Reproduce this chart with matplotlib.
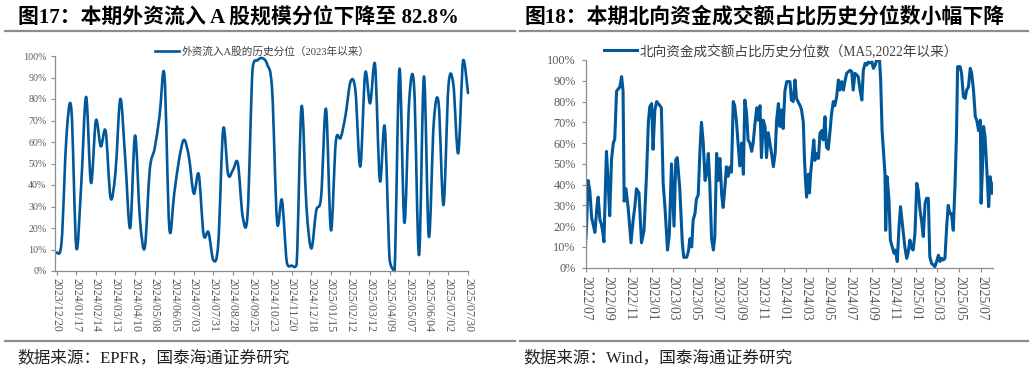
import numpy as np
import pandas as pd
import matplotlib
matplotlib.use('Agg')
import matplotlib.pyplot as plt
from matplotlib.path import Path
from matplotlib.patches import PathPatch
from matplotlib.lines import Line2D

# 图17 外资流入A股历史分位（周度，2023/12/20 起）
fi_start = '2023-12-20'
fi_pct = [8.5, 13.7, 63, 75, 11, 40, 81, 41, 70, 58, 65, 34, 46, 80, 52, 20, 63, 24, 11, 47,
          57, 72, 91, 20, 36, 52, 61, 53, 36, 45, 17, 18, 5, 13, 66, 45, 47, 50, 25, 27,
          94, 98, 99, 96, 84, 23, 33, 4, 2.5, 3, 76.5, 30, 10.5, 28, 34.6, 75.4, 19, 60, 62, 72.6,
          88, 84, 48.6, 92, 78, 96.4, 42, 67, 5, 0, 94, 22.5, 79.6, 85.5, 7.4, 90.5, 16, 68.8, 78, 30.7,
          85.8, 87, 54.8, 98, 82.8]
fi_label = '外资流入A股的历史分位（2023年以来）'

# 图18 北向资金成交额占比历史分位数（MA5），距 2022/07/01 的天数
nb_start = '2022-07-01'
nb_day = [0, 3, 7, 12, 17, 21, 26, 32, 35, 40, 44, 48, 51, 58, 63, 67, 72, 77, 81, 86,
          95, 100, 104, 107, 112, 118, 126, 132, 137, 141, 148, 155, 162, 169, 174, 178, 183, 187, 192, 197,
          206, 210, 215, 220, 227, 232, 238, 245, 250, 254, 261, 268, 272, 280, 285, 289, 294, 298, 303, 307,
          312, 317, 321, 326, 331, 335, 340, 344, 349, 354, 358, 363, 367, 372, 377, 381, 386, 390, 395, 400,
          404, 409, 413, 418, 423, 427, 432, 437, 441, 446, 450, 455, 460, 464, 469, 474, 478, 483, 487, 492,
          497, 501, 506, 515, 520, 525, 529, 534, 538, 543, 547, 552, 557, 566, 570, 575, 580, 584, 594, 598,
          603, 606, 609, 612, 617, 620, 623, 628, 632, 635, 640, 645, 649, 654, 658, 663, 667, 672, 677, 681,
          686, 690, 695, 700, 704, 709, 714, 718, 723, 732, 737, 741, 746, 751, 755, 760, 765, 769, 774, 779,
          783, 788, 793, 797, 802, 806, 814, 817, 821, 829, 831, 835, 840, 844, 849, 854, 858, 863, 868, 872,
          877, 880, 884, 889, 893, 898, 903, 907, 912, 917, 921, 926, 930, 935, 940, 944, 949, 953, 958, 963,
          967, 972, 977, 981, 986, 990, 995, 1000, 1004, 1009, 1013, 1018, 1023, 1027, 1030, 1037, 1041, 1046, 1051, 1055,
          1060, 1065, 1069, 1074, 1079, 1083, 1088, 1093, 1095, 1099, 1102, 1106, 1111, 1116, 1120, 1125, 1128]
nb_pct = [11, 20, 42, 37, 24, 21, 17, 30, 34, 23, 21, 17, 12.5, 56, 40, 25, 52, 60, 62, 85,
          87, 92, 85, 32, 38, 29, 12, 23, 30, 38, 36, 12, 18, 45, 70, 77.5, 79, 57, 76, 80,
          78, 77, 40.5, 29, 8.5, 16, 50, 20, 52, 53, 38, 12, 5, 5, 8, 14, 10, 23, 26, 33,
          35, 57, 70, 60, 42, 45, 55, 40.5, 14, 8.5, 15, 55, 42, 52.6, 35, 29, 39, 48.6, 44, 48.6,
          46, 80, 78, 70, 58, 49, 60, 45, 80.7, 74, 61.5, 60, 56, 60, 69, 77, 71, 78, 53, 71,
          68, 53, 65, 55, 48.6, 55, 71, 79, 68, 76, 67, 85, 89.6, 89.6, 80.7, 80, 90.4, 81.5, 78, 76,
          70, 53, 42, 34, 45, 36, 45, 54, 61.5, 51.7, 55, 52.6, 64.7, 66, 61.5, 72.7, 58, 57, 66, 74,
          80, 78, 82, 90.4, 85.5, 89.6, 85.5, 89.6, 93.6, 95, 94.5, 85.5, 93.6, 92.8, 92, 85.5, 80.7, 95, 98.4, 97.6,
          99, 98.6, 99, 96, 97.6, 100, 100, 90.4, 66, 45, 18, 43.8, 32.6, 13.3, 10, 7, 8.5, 3, 20, 29.4,
          21.4, 16.5, 10, 4.5, 7, 13.3, 9.3, 8.5, 16.5, 40.6, 37.4, 27.8, 23, 15, 31, 33.4, 33.4, 5.3, 2, 1.3,
          0.5, 3, 6, 3, 4.5, 3.7, 4.5, 20.5, 30, 26, 26, 18, 40.6, 64.7, 96.8, 96.8, 93.6, 82.3, 81.5, 85.5,
          87, 96, 93.6, 85.5, 72.7, 71, 66, 71, 31, 48.6, 68, 63, 47, 29.4, 43.8, 35.8, 40.6]
nb_label = '北向资金成交额占比历史分位数（MA5,2022年以来）'

title_l = '图17：本期外资流入 A 股规模分位下降至 82.8%'
title_r = '图18：本期北向资金成交额占比历史分位数小幅下降'
src_l = '数据来源：EPFR，国泰海通证券研究'
src_r = '数据来源：Wind，国泰海通证券研究'

blue = '#00579a'
gray = '#8c8c8c'
tick_c = '#595959'
mix = ['Liberation Serif', 'Noto Sans CJK SC']

W, H = 1034, 373
fig = plt.figure(figsize=(W / 100, H / 100), dpi=100)


def fx(x):
    return x / W


def fy(y):
    return 1 - y / H


def smooth_path(x, y, ylo=0.8, yhi=100):
    # Excel 风格平滑线（Catmull-Rom 转贝塞尔），控制点不越出坐标轴
    pts = np.column_stack([x, y]).astype(float)
    n = len(pts)
    verts = [pts[0]]
    codes = [Path.MOVETO]
    for i in range(n - 1):
        p0 = pts[max(i - 1, 0)]
        p1 = pts[i]
        p2 = pts[i + 1]
        p3 = pts[min(i + 2, n - 1)]
        c1 = p1 + (p2 - p0) / 6
        c2 = p2 - (p3 - p1) / 6
        c1[1] = np.clip(c1[1], ylo, yhi)
        c2[1] = np.clip(c2[1], ylo, yhi)
        verts += [c1, c2, p2]
        codes += [Path.CURVE4] * 3
    return Path(verts, codes)


def style_axes(ax, ysize, xsize, ypad, xpad):
    for s in ['top', 'right']:
        ax.spines[s].set_visible(False)
    for s in ['left', 'bottom']:
        ax.spines[s].set_color(gray)
        ax.spines[s].set_linewidth(0.9)
    ax.set_ylim(0, 100)
    ax.set_yticks(range(0, 101, 10))
    ax.set_yticklabels([f'{v}%' for v in range(0, 101, 10)])
    ax.tick_params(axis='both', colors=gray, length=3, width=0.8, direction='out')
    ax.tick_params(axis='y', labelcolor=tick_c, labelsize=ysize, pad=ypad)
    ax.tick_params(axis='x', labelcolor=tick_c, labelsize=xsize, pad=xpad, labelrotation=-90)
    for lab in ax.get_xticklabels() + ax.get_yticklabels():
        lab.set_fontfamily('Liberation Serif')


# ---- 左图 ----
axl = fig.add_axes([fx(55), fy(271), fx(468 - 55), (271 - 56) / H])
fi_dates = pd.date_range(fi_start, periods=len(fi_pct), freq='7D')
xi = np.arange(len(fi_pct))
axl.add_patch(PathPatch(smooth_path(xi, fi_pct), fill=False, edgecolor=blue, lw=1.9,
                        joinstyle='round', capstyle='round', clip_on=False))
axl.set_xlim(-0.35, 84)
tk = xi[::4]
axl.set_xticks(tk)
axl.set_xticklabels([fi_dates[i].strftime('%Y/%m/%d') for i in tk])
style_axes(axl, 7.2, 8.6, 3, 2)

# ---- 右图 ----
axr = fig.add_axes([fx(585.5), fy(267.7), fx(993 - 585.5), (267.7 - 60) / H])
axr.plot(nb_day, nb_pct, color=blue, lw=2.2, solid_joinstyle='round')
axr.set_xlim(0, 1128)
t0 = pd.Timestamp(nb_start)
mt = pd.date_range('2022-07-01', '2025-07-01', freq='2MS')
axr.set_xticks((mt - t0).days)
axr.set_xticklabels([d.strftime('%Y/%m') for d in mt])
style_axes(axr, 8.8, 9.8, 4, 3)

# ---- 图例 ----
fig.legend(handles=[Line2D([], [], color=blue, lw=1.9)], labels=[fi_label],
           loc='center', bbox_to_anchor=(fx(262), fy(52)), frameon=False,
           handlelength=2.3, handletextpad=0.15, borderaxespad=0,
           prop={'family': mix, 'size': 7.7}, labelcolor='#404040')
fig.legend(handles=[Line2D([], [], color=blue, lw=2.2)], labels=[nb_label],
           loc='center', bbox_to_anchor=(fx(781), fy(51)), frameon=False,
           handlelength=2.4, handletextpad=0.15, borderaxespad=0,
           prop={'family': mix, 'size': 9.8}, labelcolor='#404040')

# ---- 标题、分隔线、来源 ----
fig.text(fx(18), fy(17), title_l, fontsize=15, fontweight='bold', family=mix,
         va='center', ha='left', color='black')
fig.text(fx(525), fy(17), title_r, fontsize=15, fontweight='bold', family=mix,
         va='center', ha='left', color='black')
for x0, x1 in [(5, 515), (520, 1028)]:
    fig.add_artist(Line2D([fx(x0), fx(x1)], [fy(31), fy(31)], color=gray, lw=1.6))
    fig.add_artist(Line2D([fx(x0), fx(x1)], [fy(341), fy(341)], color=gray, lw=1.6))
fig.text(fx(17), fy(358), src_l, fontsize=12, family=mix, va='center', ha='left', color='#222222')
fig.text(fx(523), fy(358), src_r, fontsize=12, family=mix, va='center', ha='left', color='#222222')

fig.savefig('out.png', dpi=100)
